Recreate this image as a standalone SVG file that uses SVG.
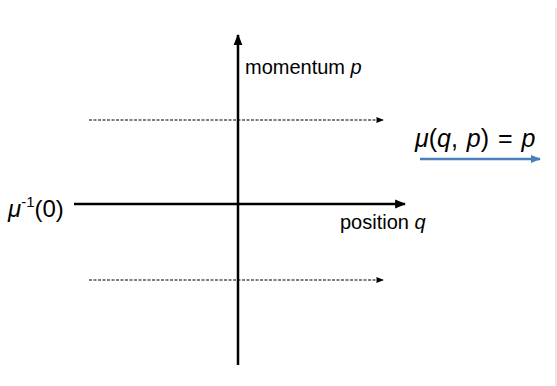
<svg xmlns="http://www.w3.org/2000/svg" width="557" height="386" viewBox="0 0 557 386">
<style>
text{font-family:"Liberation Sans",Arial,sans-serif;fill:#000}
.lbl{font-size:20px}
.big{font-size:25px;word-spacing:2px}
.inv{font-size:24px}
.it{font-style:italic}
.sup{font-size:15px}
.ax{stroke:#000;stroke-width:2.5;fill:none}
.dash{stroke:#000;stroke-width:1.2;stroke-dasharray:3 1.5;fill:none}
.blue{stroke:#4a7ebb;stroke-width:2.5;fill:none}
</style>
<defs>
<marker id="ah" viewBox="0 0 10 10" refX="9" refY="5" markerWidth="4.4" markerHeight="4.4" orient="auto" markerUnits="strokeWidth"><path d="M0,1 L10,5 L0,9 Z" fill="#000"/></marker>
<marker id="ahs" viewBox="0 0 10 10" refX="9" refY="5" markerWidth="7" markerHeight="6" orient="auto" markerUnits="strokeWidth"><path d="M0,1 L10,5 L0,9 Z" fill="#000"/></marker>
<marker id="ahb" viewBox="0 0 10 10" refX="9" refY="5" markerWidth="4" markerHeight="4" orient="auto" markerUnits="strokeWidth"><path d="M0,1 L10,5 L0,9 Z" fill="#4a7ebb"/></marker>
</defs>
<line x1="556" y1="8" x2="556" y2="386" stroke="#d0d0d0" stroke-width="1"/>
<g id="connectors">
<line class="dash" x1="89" y1="120" x2="383" y2="120" marker-end="url(#ahs)"/>
<line class="dash" x1="89" y1="280" x2="383" y2="280" marker-end="url(#ahs)"/>
<line class="ax" x1="238" y1="365" x2="238" y2="35" marker-end="url(#ah)"/>
<line class="ax" x1="74" y1="204" x2="405" y2="204" marker-end="url(#ah)"/>
<line class="blue" x1="420" y1="159" x2="540" y2="159" marker-end="url(#ahb)"/>
</g>
<g id="label-momentum"><text class="lbl" x="245" y="74">momentum <tspan class="it">p</tspan></text></g>
<g id="label-position"><text class="lbl" x="340" y="229">position <tspan class="it">q</tspan></text></g>
<g id="label-mu"><text class="big" x="415" y="147"><tspan class="it">μ</tspan>(<tspan class="it">q</tspan>, <tspan class="it">p</tspan>) = <tspan class="it">p</tspan></text></g>
<g id="label-mu-inv"><text class="inv" x="8" y="217"><tspan class="it">μ</tspan><tspan class="sup" dy="-10">-1</tspan><tspan dy="10">(0)</tspan></text></g>
</svg>
